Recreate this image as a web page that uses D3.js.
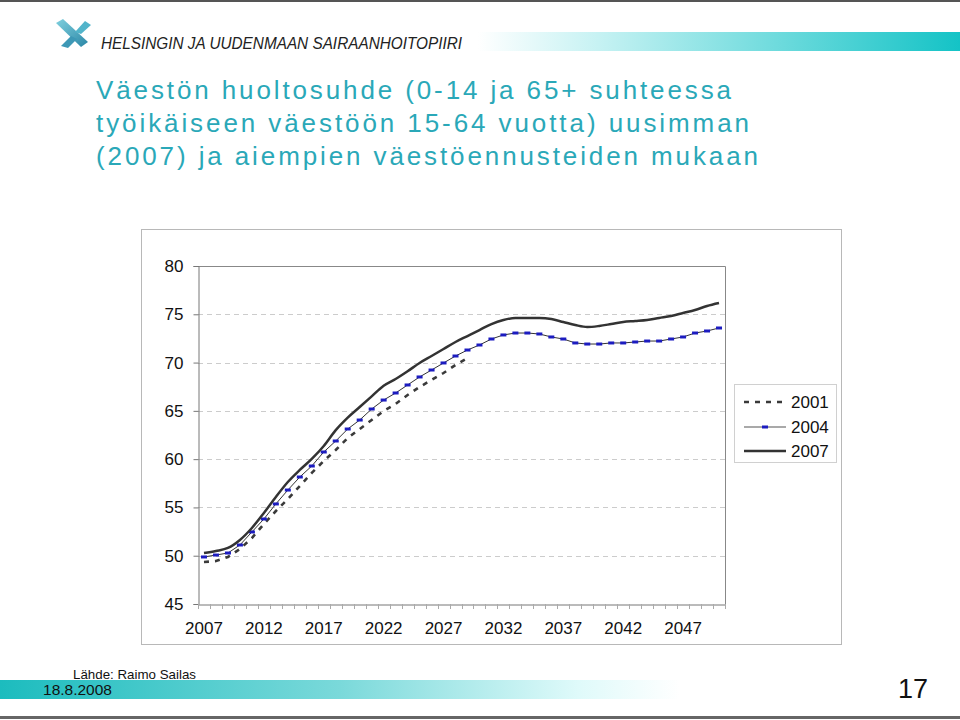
<!DOCTYPE html>
<html>
<head>
<meta charset="utf-8">
<script src="https://cdn.jsdelivr.net/npm/d3@7"></script>
<style>
  html, body { margin: 0; padding: 0; background: #fff; }
  svg { display: block; }
  text { font-family: "Liberation Sans", Arial, sans-serif; }
</style>
</head>
<body>
<svg id="chart" width="960" height="720"></svg>
<script>
// ---------- DATA ----------
const years = [2007,2008,2009,2010,2011,2012,2013,2014,2015,2016,2017,2018,2019,2020,2021,2022,2023,2024,2025,2026,2027,2028,2029,2030,2031,2032,2033,2034,2035,2036,2037,2038,2039,2040,2041,2042,2043,2044,2045,2046,2047,2048,2049,2050];
const xTickLabels = [2007,2012,2017,2022,2027,2032,2037,2042,2047];
const yTickValues = [45,50,55,60,65,70,75,80];
const seriesNames = ["2001","2004","2007"];
const values2001 = [49.35,49.45,49.87,50.70,51.83,53.28,54.63,55.87,57.22,58.57,59.81,60.95,62.19,63.12,64.05,64.99,65.71,66.64,67.47,68.20,68.92,69.75,70.47];
const values2004 = [49.87,50.07,50.28,51.11,52.46,53.80,55.36,56.80,58.15,59.29,60.74,61.88,63.12,64.05,65.19,66.12,66.85,67.68,68.51,69.23,69.96,70.68,71.30,71.82,72.44,72.86,73.06,73.06,72.96,72.65,72.44,72.03,71.92,71.92,72.03,72.03,72.13,72.23,72.23,72.44,72.65,73.06,73.27,73.58];
const values2007 = [50.28,50.49,50.80,51.63,52.87,54.42,56.08,57.63,58.88,60.02,61.36,63.0,64.3,65.4,66.5,67.6,68.3,69.1,69.96,70.68,71.41,72.13,72.75,73.37,73.99,74.41,74.62,74.62,74.62,74.51,74.20,73.89,73.68,73.79,73.99,74.20,74.30,74.41,74.62,74.82,75.13,75.44,75.86,76.17];
const titleLines = [
  "Väestön huoltosuhde (0-14 ja 65+ suhteessa",
  "työikäiseen väestöön 15-64 vuotta) uusimman",
  "(2007) ja aiempien väestöennusteiden mukaan"
];
const headerText = "HELSINGIN JA UUDENMAAN SAIRAANHOITOPIIRI";
const sourceText = "Lähde: Raimo Sailas";
const dateText = "18.8.2008";
const pageText = "17";

// ---------- SETUP ----------
const svg = d3.select("#chart");
const defs = svg.append("defs");

// top/bottom page borders
svg.append("rect").attr("x",0).attr("y",0).attr("width",960).attr("height",2).attr("fill","#555");
svg.append("rect").attr("x",0).attr("y",716).attr("width",960).attr("height",3).attr("fill","#666");

// header gradient bar
const hg = defs.append("linearGradient").attr("id","hg").attr("x1","0").attr("x2","1").attr("y1","0").attr("y2","0");
hg.append("stop").attr("offset","0").attr("stop-color","#ffffff");
hg.append("stop").attr("offset","0.25").attr("stop-color","#c6f2f3");
hg.append("stop").attr("offset","1").attr("stop-color","#14c3c6");
svg.append("rect").attr("x",478).attr("y",32).attr("width",482).attr("height",19).attr("fill","url(#hg)");

// logo
const lg = defs.append("linearGradient").attr("id","lg").attr("x1","0").attr("x2","1").attr("y1","0").attr("y2","1");
lg.append("stop").attr("offset","0").attr("stop-color","#7fd0de");
lg.append("stop").attr("offset","1").attr("stop-color","#2a86a6");
const logo = svg.append("g").attr("transform","translate(73,34)");
logo.append("path").attr("d","M-17,-11 L-10,-15 L15,8 L8,13 Z").attr("fill","url(#lg)");
logo.append("path").attr("d","M-2,2 L-12,12 L-5,14 L4,5 Z").attr("fill","#3d98b6");
logo.append("path").attr("d","M2,-2 L12,-13 L18,-9 L8,0 Z").attr("fill","#52b4ca");

svg.append("text").attr("x",101).attr("y",49)
  .attr("font-family","'Liberation Sans Narrow','Arial Narrow',sans-serif")
  .attr("font-style","italic").attr("font-size",17).attr("fill","#222")
  .attr("textLength",361).attr("lengthAdjust","spacingAndGlyphs")
  .text(headerText);

// title
const titleWidths = [635, 653, 662];
titleLines.forEach((t,i) => {
  svg.append("text").attr("x",96).attr("y",99 + i*33)
    .attr("font-size",26).attr("fill","#2aa8b8")
    .attr("textLength",titleWidths[i]).attr("lengthAdjust","spacing")
    .text(t);
});

// footer gradient bar
const fg = defs.append("linearGradient").attr("id","fg").attr("x1","0").attr("x2","1").attr("y1","0").attr("y2","0");
fg.append("stop").attr("offset","0").attr("stop-color","#1cbcbe");
fg.append("stop").attr("offset","0.5").attr("stop-color","#7ad9da");
fg.append("stop").attr("offset","0.85").attr("stop-color","#dffafa");
fg.append("stop").attr("offset","1").attr("stop-color","#ffffff");
svg.append("rect").attr("x",0).attr("y",680).attr("width",680).attr("height",19).attr("fill","url(#fg)");

svg.append("text").attr("x",73).attr("y",679)
  .attr("font-family","'Liberation Sans Narrow','Arial Narrow',sans-serif")
  .attr("font-size",13.5).attr("fill","#111")
  .attr("textLength",123).attr("lengthAdjust","spacingAndGlyphs").text(sourceText);
svg.append("text").attr("x",43).attr("y",695)
  .attr("font-family","'Liberation Sans Narrow','Arial Narrow',sans-serif")
  .attr("font-size",15).attr("fill","#111")
  .attr("textLength",69).attr("lengthAdjust","spacingAndGlyphs").text(dateText);
svg.append("text").attr("x",928).attr("y",698).attr("text-anchor","end")
  .attr("font-family","'Liberation Sans Narrow','Arial Narrow',sans-serif")
  .attr("font-size",27).attr("fill","#111").text(pageText);

// chart outer frame
svg.append("rect").attr("x",141.5).attr("y",229.5).attr("width",700).attr("height",415)
  .attr("fill","#fff").attr("stroke","#b8b8b8").attr("stroke-width",1);

// ---------- SCALES ----------
const plot = {left:198, right:725, top:266, bottom:604};
const x = d3.scaleBand().domain(years).range([plot.left, plot.right]).padding(0);
const cx = d => x(d) + x.bandwidth()/2;
const y = d3.scaleLinear().domain([45,80]).range([plot.bottom, plot.top]);

const g = svg.append("g");

// gridlines
g.selectAll("line.grid").data(yTickValues.filter(v => v>45 && v<80)).enter().append("line")
  .attr("x1",plot.left).attr("x2",plot.right)
  .attr("y1",d=>Math.round(y(d))+0.5).attr("y2",d=>Math.round(y(d))+0.5)
  .attr("stroke","#cccccc").attr("stroke-width",1).attr("stroke-dasharray","5,4");

// plot border (top & right)
g.append("path")
  .attr("d",`M${plot.left},${plot.top+0.5} H${plot.right+0.5} V${plot.bottom}`)
  .attr("fill","none").attr("stroke","#888").attr("stroke-width",1);

// y axis
const yAxis = d3.axisLeft(y).tickValues(yTickValues).tickSize(5).tickPadding(10);
const ya = g.append("g").attr("transform",`translate(${plot.left+0.5},0)`).call(yAxis);
ya.select(".domain").attr("stroke","#777");
ya.selectAll(".tick line").attr("stroke","#777");
ya.selectAll(".tick text").attr("font-size",17).attr("fill","#111")
  .attr("font-family","'Liberation Sans', Arial, sans-serif");

// x axis
const xAxis = d3.axisBottom(x).tickValues(xTickLabels).tickSize(0).tickPadding(17);
const xa = g.append("g").attr("transform",`translate(0,${plot.bottom+0.5})`).call(xAxis);
xa.select(".domain").attr("stroke","#777");
xa.selectAll(".tick text").attr("font-size",17).attr("fill","#111")
  .attr("font-family","'Liberation Sans', Arial, sans-serif");
// category boundary tick marks
const boundaries = years.map(d => x(d)).concat([x(years[years.length-1]) + x.bandwidth()]);
g.selectAll("line.xt").data(boundaries).enter().append("line")
  .attr("x1",d=>Math.round(d)+0.5).attr("x2",d=>Math.round(d)+0.5)
  .attr("y1",plot.bottom).attr("y2",plot.bottom+5)
  .attr("stroke","#aaa").attr("stroke-width",1);

// ---------- LINES ----------
const line = d3.line().x(d=>cx(d.year)).y(d=>y(d.v));
const toPts = arr => arr.map((v,i)=>({year:years[i], v}));

g.append("path").datum(toPts(values2001))
  .attr("d",line).attr("fill","none").attr("stroke","#3a3a3a")
  .attr("stroke-width",2.6).attr("stroke-dasharray","5,6");

g.append("path").datum(toPts(values2004))
  .attr("d",line).attr("fill","none").attr("stroke","#333").attr("stroke-width",1);
g.selectAll("rect.m04").data(toPts(values2004)).enter().append("rect")
  .attr("x",d=>cx(d.year)-3).attr("y",d=>y(d.v)-1.5).attr("width",6).attr("height",3)
  .attr("fill","#1c1cc0");

g.append("path").datum(toPts(values2007))
  .attr("d",line.curve(d3.curveMonotoneX)).attr("fill","none").attr("stroke","#333")
  .attr("stroke-width",2.5);

// ---------- LEGEND ----------
const leg = svg.append("g");
leg.append("rect").attr("x",734.5).attr("y",384.5).attr("width",102).attr("height",78)
  .attr("fill","#fff").attr("stroke","#d0d0d0");
const legY = [402, 427, 451];
seriesNames.forEach((s,i) => {
  const ly = legY[i];
  const ln = leg.append("line").attr("x1",744).attr("x2",786).attr("y1",ly).attr("y2",ly)
    .attr("stroke", i===1 ? "#555" : "#333").attr("stroke-width", i===1 ? 1.2 : 2.5);
  if (i===0) ln.attr("stroke","#3a3a3a").attr("stroke-dasharray","5,6");
  if (i===1) leg.append("rect").attr("x",762).attr("y",ly-1.5).attr("width",6).attr("height",3).attr("fill","#1c1cc0");
  leg.append("text").attr("x",791).attr("y",ly+6).attr("font-size",17).attr("fill","#111").text(s);
});
</script>
</body>
</html>
